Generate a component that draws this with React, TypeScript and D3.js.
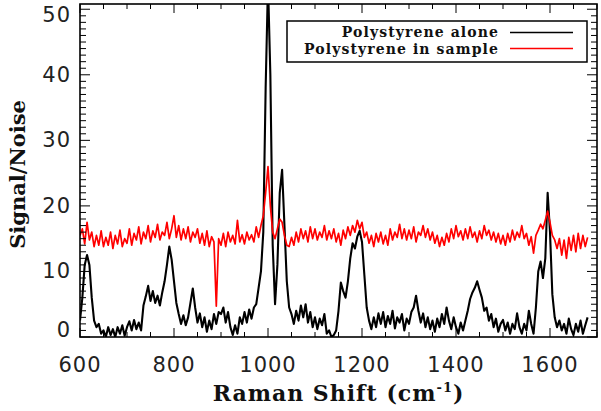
import * as d3 from 'd3'

const W = 601, H = 411
const M = { top: 4, right: 4, bottom: 74, left: 80 }

// sampling grid of the spectra (cm^-1)
const START = 600, STEP = 5

// Polystyrene alone (S/N), every 5 cm^-1 from 600
const aloneSN = [
  2.5, 6, 11, 12.5, 11, 6, 2.5, 1.5, 2, 0.5,
  1, 0, 1.5, 0.3, 1.2, 0, 1.5, 0.5, 1.8, 0.2,
  1.5, 2.4, 1, 2.6, 1.2, 2.2, 1, 4.8, 6.2, 7.8,
  5.5, 7, 5.2, 6.3, 4.8, 6.8, 8.5, 11, 13.8, 11.8,
  8.5, 5.2, 3.5, 2, 3.3, 1.8, 3, 5.2, 7.4, 4.5,
  2.2, 3.6, 1.5, 3, 0.8, 2.5, 1.2, 3.5, 2, 3.8,
  3.5, 4.5, 2.2, 3.8, 1.5, 0.3, 1.8, 0.5, 3, 2,
  3.8, 2.2, 4.2, 2.8, 4.5, 5, 7.5, 10, 16, 38,
  54, 40, 14, 5, 11, 22, 25.5, 17, 8.5, 4.5,
  3.5, 2, 4, 2.5, 4.8, 3, 5, 2.2, 3.8, 1.5,
  3, 1.2, 2.8, 1.8, 3.5, 0.5, 1, 0, 0.3, 1,
  4, 8.3, 7, 6, 8.5, 12, 14.3, 13.5, 15.3, 16.2,
  14.5, 9.5, 4.5, 2.5, 1.2, 3, 1.5, 3.6, 2, 3.8,
  1.5, 3.2, 2, 4, 1.3, 3, 2.2, 3.5, 1, 2.8,
  2, 3.8, 4.5, 6.3, 4, 2.2, 3.6, 1.5, 3, 1.2,
  2.5, 0.8, 2.8, 1.5, 3.5, 2, 4.5, 2.5, 1.2, 3,
  1.5, 0.5, 2.2, 1, 2.5, 4, 5.8, 6.8, 7.5, 8.5,
  7.2, 6, 4, 4.5, 2.5, 3.5, 1.5, 2.8, 0.8, 2,
  2.6, 1, 2.2, 0.5, 2, 1.2, 3.6, 1.5, 0.5, 2,
  1, 4, 2, 0.5, 4.5, 10, 11.5, 9, 12, 22,
  16, 6.5, 3, 1.5, 2.5, 1, 2, 0.5, 2.8, 1.2,
  0.3, 2, 0.8, 2.5, 0.5, 1.8, 3,
]

// Polystyrene in sample (S/N)
const sampleSN = [
  15.5, 16.5, 14.2, 17.5, 14.8, 16, 13.8, 15.5, 14, 16.2,
  13.8, 15.2, 14, 16, 13.5, 15.5, 14.2, 16.3, 13.8, 15,
  14.3, 16.5, 14, 15.8, 14.8, 16.8, 14.2, 16, 15, 17,
  14.5, 16.2, 15.2, 17.2, 14.8, 16, 15.5, 17.5, 15, 16.5,
  18.5, 15.2, 17, 14.8, 16.5, 15, 16.8, 14.5, 16, 15.2,
  16.5, 14.3, 15.8, 14, 16.2, 13.8, 15.3, 14.5, 4.7, 15,
  14, 15.8, 13.8, 16, 14.5, 15.5, 14.2, 17.8, 14.5, 15.6,
  14.2, 16, 14.8, 15.6, 14.5, 16.8, 15.2, 17, 18.5, 22,
  26, 20, 16, 15, 16.5, 18, 17.5, 15.5, 14, 13.8,
  15.2, 14, 16, 14.5, 16.5, 15, 16.2, 14.5, 16.8, 15,
  16.5, 14.8, 16, 15.2, 17, 14.8, 16.2, 15, 16.5, 14.5,
  15.8, 14, 16.3, 15, 16.8, 15.5, 17, 16, 17.8, 16.5,
  17.5, 15.2, 16, 14.3, 15.5, 13.8, 15.8, 14.5, 16, 14.2,
  15.5, 14, 16.5, 14.8, 16, 15.2, 17.2, 15, 16.5, 14.8,
  16.3, 15, 16.8, 14.5, 16, 15.5, 17, 15.2, 16.5, 14.8,
  16, 14.3, 15.5, 13.8, 15.2, 14, 15.8, 14.5, 16.5, 15,
  17, 15.3, 16.2, 14.8, 16.5, 15, 16.8, 15.2, 16, 14.5,
  16.2, 15, 17, 15.5, 16.3, 14.8, 16, 14.5, 15.8, 14.2,
  15.5, 14, 15.8, 14.5, 16.3, 14.8, 16, 15.2, 17, 15,
  15.8, 14, 15.3, 12.8, 15.5, 16.3, 17.2, 16.5, 17.8, 19.2,
  17.5, 15.5, 14.8, 13.5, 15, 12.5, 14.8, 12, 15.2, 13.2,
  15.5, 13, 15.8, 13.5, 15.5, 13.8, 15.2,
]

const xMajor = [600, 800, 1000, 1200, 1400, 1600]
const yMajor = [0, 10, 20, 30, 40, 50]
const legendLabels = ['Polystyrene alone', 'Polystyrene in sample']
const seriesColors = ['#000000', '#ff0000']

const SANS = 'DejaVu Sans, sans-serif'
const SERIF = 'DejaVu Serif, serif'

export default function App() {
  const x = d3.scaleLinear().domain([600, 1700]).range([M.left, W - M.right])
  const y = d3.scaleLinear().domain([0, 50.8]).range([H - M.bottom, M.top])
  const x0 = M.left, x1 = W - M.right, y0 = H - M.bottom, y1 = M.top

  const line = d3.line<number>()
    .x((_, i) => x(START + i * STEP))
    .y((d) => y(d))

  const xMinor = d3.range(600, 1701, 50)
  const yMinor = d3.range(0, 51, 1)

  return (
    <div style={{ position: 'absolute', left: 0, top: 0 }}>
      <svg width={W} height={H} style={{ display: 'block', background: '#fff' }}>
        <defs>
          <clipPath id="plot">
            <rect x={x0} y={y1} width={x1 - x0} height={y0 - y1} />
          </clipPath>
        </defs>

        <g clipPath="url(#plot)">
          <path d={line(aloneSN) ?? ''} fill="none" stroke={seriesColors[0]} strokeWidth={2.1} strokeLinejoin="round" />
          <path d={line(sampleSN) ?? ''} fill="none" stroke={seriesColors[1]} strokeWidth={1.7} strokeLinejoin="round" />
        </g>

        {/* ticks, IDL style: inside on all four sides */}
        <g stroke="#000" strokeWidth={1}>
          {xMinor.map((t) => {
            const len = xMajor.includes(t) ? 9 : 5
            return (
              <g key={'x' + t}>
                <line x1={x(t)} x2={x(t)} y1={y0} y2={y0 - len} />
                <line x1={x(t)} x2={x(t)} y1={y1} y2={y1 + len} />
              </g>
            )
          })}
          {yMinor.map((t) => {
            const len = t % 10 === 0 ? 10 : 6
            return (
              <g key={'y' + t}>
                <line x1={x0} x2={x0 + len} y1={y(t)} y2={y(t)} />
                <line x1={x1} x2={x1 - len} y1={y(t)} y2={y(t)} />
              </g>
            )
          })}
        </g>

        <rect x={x0} y={y1} width={x1 - x0} height={y0 - y1} fill="none" stroke="#000" strokeWidth={1.6} />

        {/* tick labels */}
        <g fontFamily={SANS} fontSize={21} fill="#222" letterSpacing={1}>
          {xMajor.map((t) => (
            <text key={t} x={x(t)} y={372} textAnchor="middle">{t}</text>
          ))}
          {yMajor.map((t) => (
            <text key={t} x={71} y={Math.max(15, Math.min(330, y(t)))} textAnchor="end" dominantBaseline="central">{t}</text>
          ))}
        </g>

        {/* axis titles */}
        <text x={(x0 + x1) / 2} y={401} textAnchor="middle" fontFamily={SERIF} fontWeight="bold" fontSize={22} letterSpacing={1} fill="#111">
          Raman Shift (cm<tspan fontSize={13} dy={-9}>-1</tspan><tspan dy={9}>)</tspan>
        </text>
        <text transform={`translate(25,${(y0 + y1) / 2 + 4}) rotate(-90)`} textAnchor="middle" fontFamily={SERIF} fontWeight="bold" fontSize={21} fill="#111">
          Signal/Noise
        </text>

        {/* legend */}
        <rect x={287} y={21} width={300} height={41} fill="#fff" stroke="#000" strokeWidth={1.5} />
        {legendLabels.map((label, i) => (
          <g key={label}>
            <text x={499} y={37 + i * 16.5} textAnchor="end" fontFamily={SERIF} fontWeight="bold" fontSize={14} letterSpacing={1.1} fill="#111">{label}</text>
            <line x1={510} x2={573} y1={32.5 + i * 16} y2={32.5 + i * 16} stroke={seriesColors[i]} strokeWidth={1.3} />
          </g>
        ))}
      </svg>
    </div>
  )
}
